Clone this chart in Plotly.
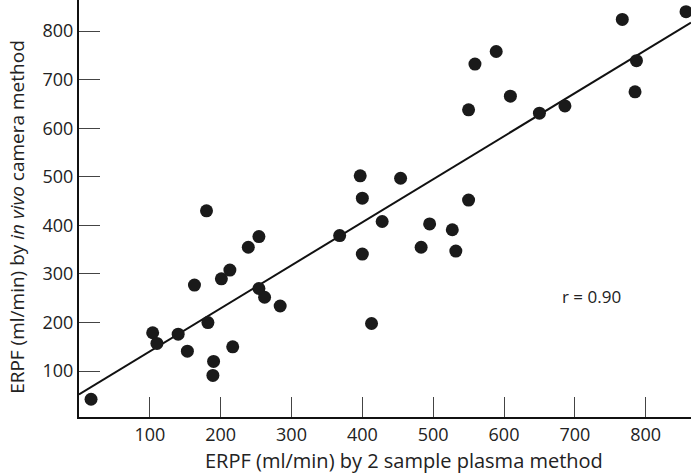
import plotly.graph_objects as go

# Data
plasma_erpf = [17, 104, 110, 140, 153, 182, 190, 189, 217, 163, 201, 254, 262, 284,
               180, 254, 239, 213, 397, 454, 400, 428, 368, 400, 495, 527, 483, 532,
               550, 413, 857, 767, 589, 559, 609, 550, 650, 686, 787, 785]
camera_erpf = [42, 179, 157, 176, 141, 200, 120, 91, 150, 277, 290, 270, 252, 234,
               430, 377, 355, 308, 502, 497, 456, 408, 379, 341, 403, 391, 355, 347,
               452, 198, 840, 824, 758, 732, 666, 638, 631, 646, 739, 675]

fit_intercept = 52
fit_slope = 0.886
x_range = [0, 864]
y_range = [5.5, 864]
tick_values = [100, 200, 300, 400, 500, 600, 700, 800]
tick_labels = ["100", "200", "300", "400", "500", "600", "700", "800"]
r_label = "r = 0.90"

FONT = "Open Sans"

fig = go.Figure()

fit_x = [x_range[0], x_range[1]]
fit_y = [fit_intercept + fit_slope * v for v in fit_x]
fig.add_trace(go.Scatter(x=fit_x, y=fit_y, mode="lines",
                         line=dict(color="#111", width=2), hoverinfo="skip"))

fig.add_trace(go.Scatter(x=plasma_erpf, y=camera_erpf, mode="markers",
                         marker=dict(size=13, color="#1a1a1a"),
                         cliponaxis=False))

axis_common = dict(
    showgrid=False, zeroline=False, showline=True, linecolor="#111", linewidth=2,
    ticks="inside", tickcolor="#444", tickwidth=1,
    tickvals=tick_values, ticktext=tick_labels,
    tickfont=dict(family=FONT, size=18, color="#222"),
)

fig.update_xaxes(range=x_range, ticklen=20, **axis_common)
fig.update_yaxes(range=y_range, ticklen=21, **axis_common)

fig.add_annotation(text="ERPF (ml/min) by 2 sample plasma method",
                   xref="paper", yref="paper", x=0.531, y=-0.1055,
                   xanchor="center", yanchor="middle", showarrow=False,
                   font=dict(family=FONT, size=20, color="#222"))
fig.add_annotation(text="ERPF (ml/min) by <i>in vivo</i> camera method",
                   xref="paper", yref="paper", x=-0.1013, y=0.48,
                   xanchor="center", yanchor="middle", showarrow=False, textangle=-90,
                   font=dict(family=FONT, size=19, color="#222"))
fig.add_annotation(text=r_label, x=724, y=254, xref="x", yref="y",
                   showarrow=False, xanchor="center", yanchor="middle",
                   font=dict(family=FONT, size=17, color="#222"))

fig.update_layout(
    width=691, height=476,
    margin=dict(l=79, r=0, t=0, b=59),
    paper_bgcolor="white", plot_bgcolor="white",
    showlegend=False,
)

fig.write_html("out.html", config={"displayModeBar": False},
               post_script="document.body.style.margin='0';")
